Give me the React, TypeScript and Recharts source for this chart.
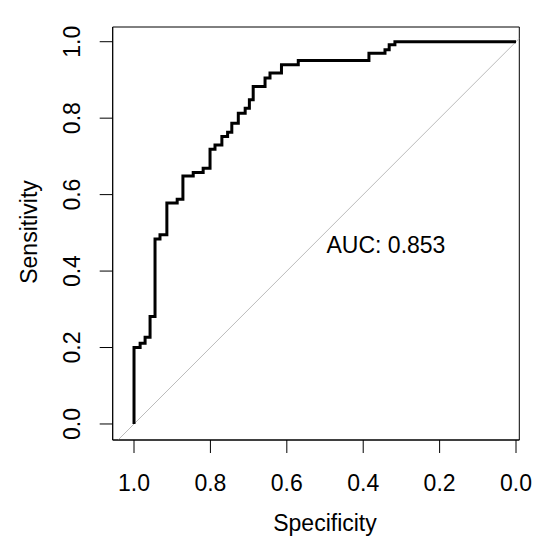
import React from "react";
import { Line, LineChart, ReferenceArea, ReferenceDot, ReferenceLine, XAxis, YAxis } from "recharts";

// ROC curve vertices (specificity runs 1 -> 0)
const specificity = [
  1.0, 1.0, 0.984, 0.984, 0.971, 0.971, 0.958, 0.958, 0.945, 0.945,
  0.932, 0.932, 0.914, 0.914, 0.887, 0.887, 0.872, 0.872, 0.845, 0.845,
  0.819, 0.819, 0.801, 0.801, 0.788, 0.788, 0.77, 0.77, 0.755, 0.755,
  0.744, 0.744, 0.727, 0.727, 0.709, 0.709, 0.698, 0.698, 0.688, 0.688,
  0.657, 0.657, 0.644, 0.644, 0.614, 0.614, 0.57, 0.57, 0.385, 0.385,
  0.343, 0.343, 0.332, 0.332, 0.317, 0.317, 0.0,
];
const sensitivity = [
  0.0, 0.2, 0.2, 0.211, 0.211, 0.227, 0.227, 0.281, 0.281, 0.484,
  0.484, 0.495, 0.495, 0.578, 0.578, 0.588, 0.588, 0.649, 0.649, 0.658,
  0.658, 0.669, 0.669, 0.719, 0.719, 0.73, 0.73, 0.752, 0.752, 0.763,
  0.763, 0.787, 0.787, 0.813, 0.813, 0.826, 0.826, 0.848, 0.848, 0.883,
  0.883, 0.905, 0.905, 0.918, 0.918, 0.94, 0.94, 0.951, 0.951, 0.97,
  0.97, 0.979, 0.979, 0.992, 0.992, 1.0, 1.0,
];
const axisTicks = [0, 0.2, 0.4, 0.6, 0.8, 1.0];
const aucLabel = "AUC: 0.853";

const xDomain = [-0.0086, 1.0558];
const yDomain = [-0.0419, 1.0385];

const font = '"Liberation Sans", Arial, sans-serif';
const fs = 23;

const rocData = specificity.map((s, i) => ({ spec: s, sens: sensitivity[i] }));

const YTick = ({ x, y, payload }: any) => (
  <text
    transform={`translate(${x}, ${y}) rotate(-90)`}
    textAnchor="middle"
    fontSize={fs}
    fontFamily={font}
    fill="#000"
  >
    {Number(payload.value).toFixed(1)}
  </text>
);

export default function App() {
  return (
    <div style={{ position: "absolute", left: 0, top: 0, background: "#fff" }}>
      <LineChart
        width={550}
        height={552}
        data={rocData}
        margin={{ top: 27, right: 30.7, bottom: 32, left: 32.7 }}
      >
        <XAxis
          dataKey="spec"
          type="number"
          domain={xDomain}
          reversed
          ticks={axisTicks}
          tickFormatter={(v) => Number(v).toFixed(1)}
          tickSize={13}
          tickMargin={22}
          height={80}
          axisLine={{ stroke: "#000" }}
          tickLine={{ stroke: "#000" }}
          tick={{ fill: "#000", fontSize: fs, fontFamily: font }}
          label={{
            value: "Specificity",
            content: ({ viewBox }: any) => (
              <text x={325} y={viewBox.y + 91} textAnchor="middle" fontSize={fs} fontFamily={font} fill="#000">
                Specificity
              </text>
            ),
          }}
        />
        <YAxis
          dataKey="sens"
          type="number"
          domain={yDomain}
          ticks={axisTicks}
          tickSize={13}
          tickMargin={19.7}
          width={80}
          axisLine={{ stroke: "#000" }}
          tickLine={{ stroke: "#000" }}
          tick={<YTick />}
          label={{
            value: "Sensitivity",
            content: () => (
              <text
                transform="translate(37, 232) rotate(-90)"
                textAnchor="middle"
                fontSize={fs}
                fontFamily={font}
                fill="#000"
              >
                Sensitivity
              </text>
            ),
          }}
        />
        <ReferenceArea
          x1={xDomain[0]}
          x2={xDomain[1]}
          y1={yDomain[0]}
          y2={yDomain[1]}
          fill="none"
          stroke="#000"
          strokeWidth={1}
          ifOverflow="visible"
        />
        <ReferenceLine
          segment={[
            { x: 1.0419, y: -0.0419 },
            { x: -0.0086, y: 1.0086 },
          ]}
          stroke="#bbbbbb"
          strokeWidth={1}
          ifOverflow="hidden"
        />
        <Line
          type="linear"
          dataKey="sens"
          stroke="#000"
          strokeWidth={3}
          dot={false}
          activeDot={false}
          isAnimationActive={false}
        />
        <ReferenceDot
          x={0.5}
          y={0.5}
          r={0}
          fill="none"
          stroke="none"
          label={{
            value: aucLabel,
            content: ({ viewBox }: any) => (
              <text x={viewBox.x + 1.5} y={viewBox.y + 20} fontSize={fs} fontFamily={font} fill="#000">
                {aucLabel}
              </text>
            ),
          }}
        />
      </LineChart>
    </div>
  );
}
